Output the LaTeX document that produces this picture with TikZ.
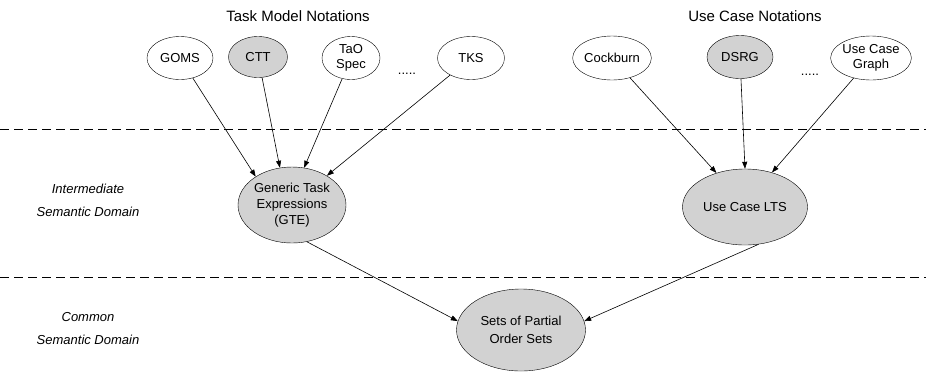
\documentclass[tikz,border=0pt]{standalone}
\usepackage{fontspec}
\setmainfont{Liberation Sans}
\usetikzlibrary{arrows.meta,shapes.geometric}
\definecolor{nodegray}{RGB}{210,210,210}
\begin{document}
\begin{tikzpicture}[x=1pt,y=-1pt,
  notation/.style={draw,ellipse,inner sep=0pt,align=center,
    font=\fontsize{13}{14.5}\selectfont},
  shaded/.style={fill=nodegray},
  semdomain/.style={draw,ellipse,fill=nodegray,inner sep=0pt,align=center,
    font=\fontsize{13}{17}\selectfont},
  heading/.style={font=\fontsize{15}{17}\selectfont},
  ellipsis/.style={inner sep=0pt,font=\fontsize{13}{14}\selectfont},
  sidelabel/.style={align=center,font=\fontsize{13}{23}\selectfont\itshape},
  flow/.style={-{Triangle[length=7pt,width=5pt]},line width=0.6pt},
  separator/.style={dashed,dash pattern=on 9pt off 5pt,line width=0.8pt}]
\useasboundingbox (0,0) rectangle (926,373);

% column headings
\node[heading] (tmn) at (298,16) {Task Model Notations};
\node[heading] (ucn) at (755,16) {Use Case Notations};

% task model notations
\node[notation,minimum width=66pt,minimum height=43pt] (goms) at (180,58) {GOMS};
\node[notation,shaded,minimum width=59pt,minimum height=41pt] (ctt) at (258,57) {CTT};
\node[notation,minimum width=58pt,minimum height=43pt] (tao) at (351,58) {TaO\\Spec};
\node[ellipsis] (dots1) at (407,74) {.....};
\node[notation,minimum width=67pt,minimum height=43pt] (tks) at (471,58) {TKS};

% use case notations
\node[notation,minimum width=71pt,minimum height=44pt] (cock) at (612,58) {Cockburn};
\node[notation,shaded,minimum width=66pt,minimum height=43pt] (dsrg) at (740,57) {DSRG};
\node[ellipsis] (dots2) at (810,75) {.....};
\node[notation,minimum width=77pt,minimum height=44pt] (ucg) at (871,58) {Use Case\\Graph};

% layer separators
\coordinate (s1l) at (0,129);
\coordinate (s1r) at (926,129);
\coordinate (s2l) at (0,277);
\coordinate (s2r) at (926,277);
\draw[separator] (s1l) -- (s1r);
\draw[separator] (s2l) -- (s2r);

% layer labels
\node[sidelabel] (inter) at (88,200) {Intermediate\\Semantic Domain};
\node[sidelabel] (common) at (88,329) {Common\\Semantic Domain};

% semantic domains
\node[semdomain,minimum width=108pt,minimum height=76pt,
  font=\fontsize{13}{16}\selectfont] (gte) at (292,205) {Generic Task\\Expressions\\(GTE)};
\node[semdomain,minimum width=125pt,minimum height=76pt] (lts) at (745,207) {Use Case LTS};
\node[semdomain,minimum width=129pt,minimum height=82pt,
  font=\fontsize{13}{18}\selectfont] (pos) at (521,330) {Sets of Partial\\Order Sets};

% mappings
\draw[flow] (goms) -- (gte.142);
\draw[flow] (ctt) -- (gte.108);
\draw[flow] (tao) -- (gte.72);
\draw[flow] (tks) -- (gte.40);
\draw[flow] (cock) -- (lts.130);
\draw[flow] (dsrg) -- (lts.north);
\draw[flow] (ucg) -- (lts.52);
\draw[flow] (gte.-68) -- (pos.172);
\draw[flow] (lts.-70) -- (pos.8);
\end{tikzpicture}
\end{document}
